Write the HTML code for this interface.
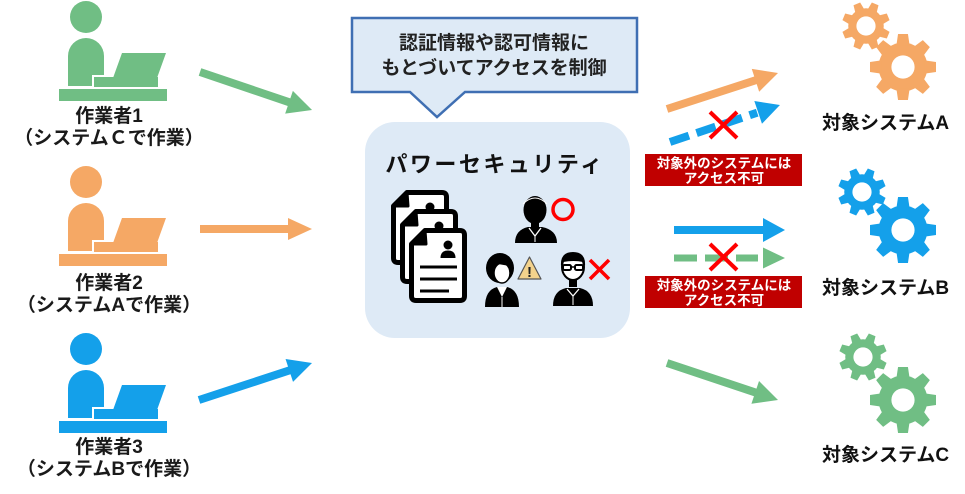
<!DOCTYPE html>
<html>
<head>
<meta charset="utf-8">
<style>
  html,body{margin:0;padding:0;background:#fff;}
  svg{display:block;}
  text{font-family:"Liberation Sans","Noto Sans CJK JP",sans-serif;font-weight:bold;}
</style>
</head>
<body>
<svg width="965" height="494" viewBox="0 0 965 494" xmlns="http://www.w3.org/2000/svg">
  <defs>
    <g id="worker">
      <circle cx="86" cy="17" r="16"/>
      <path d="M68,86 V56 A18,18 0 0 1 104,56 V86 Z"/>
      <polygon points="122,53 166,53 157,78 113,78"/>
      <rect x="94" y="77" width="64" height="10"/>
      <path d="M93,87 V76 H105" fill="none" stroke="#fff" stroke-width="2"/>
      <rect x="59" y="89" width="108" height="12"/>
    </g>
    <g id="gearbody">
      <circle r="0.74"/>
      <polygon points="-0.2,-0.66 0.2,-0.66 0.15,-1 -0.15,-1"/>
      <polygon points="-0.2,-0.66 0.2,-0.66 0.15,-1 -0.15,-1" transform="rotate(45)"/>
      <polygon points="-0.2,-0.66 0.2,-0.66 0.15,-1 -0.15,-1" transform="rotate(90)"/>
      <polygon points="-0.2,-0.66 0.2,-0.66 0.15,-1 -0.15,-1" transform="rotate(135)"/>
      <polygon points="-0.2,-0.66 0.2,-0.66 0.15,-1 -0.15,-1" transform="rotate(180)"/>
      <polygon points="-0.2,-0.66 0.2,-0.66 0.15,-1 -0.15,-1" transform="rotate(225)"/>
      <polygon points="-0.2,-0.66 0.2,-0.66 0.15,-1 -0.15,-1" transform="rotate(270)"/>
      <polygon points="-0.2,-0.66 0.2,-0.66 0.15,-1 -0.15,-1" transform="rotate(315)"/>
    </g>
    <g id="page">
      <path d="M16,2.5 H51 Q55.5,2.5 55.5,7 V68 Q55.5,72.5 51,72.5 H7 Q2.5,72.5 2.5,68 V16 Z" fill="#fff" stroke="#000" stroke-width="5" stroke-linejoin="round"/>
      <path d="M16,2.5 L17,16 L2.5,16 Z" fill="#000" stroke="#000" stroke-width="3" stroke-linejoin="round"/>
      <circle cx="39" cy="17" r="4.5" fill="#000"/>
      <path d="M31.5,30 Q31.5,22.5 39,22.5 Q46.5,22.5 46.5,30 Z" fill="#000"/>
      <line x1="11" y1="39" x2="48" y2="39" stroke="#000" stroke-width="3"/>
      <line x1="11" y1="51" x2="48" y2="51" stroke="#000" stroke-width="3"/>
      <line x1="11" y1="63" x2="40" y2="63" stroke="#000" stroke-width="3"/>
    </g>
  </defs>

  <!-- Workers -->
  <use href="#worker" fill="#70BE84"/>
  <use href="#worker" fill="#F5A865" transform="translate(0,165)"/>
  <use href="#worker" fill="#14A0EA" transform="translate(0,332)"/>

  <g fill="#1a1a1a" font-size="19" text-anchor="middle">
    <text x="109" y="122">作業者1</text>
    <text x="109" y="144">（システムＣで作業）</text>
    <text x="109" y="289">作業者2</text>
    <text x="109" y="311">（システムAで作業）</text>
    <text x="109" y="453">作業者3</text>
    <text x="109" y="475">（システムBで作業）</text>
  </g>

  <!-- Left arrows -->
  <g fill="#70BE84" transform="translate(200,72) rotate(18.74)">
    <rect x="0" y="-4" width="96" height="8"/>
    <polygon points="94,-12 118.3,0 94,12"/>
  </g>
  <g fill="#F5A865" transform="translate(200,229)">
    <rect x="0" y="-4" width="90" height="8"/>
    <polygon points="88,-11 112,0 88,11"/>
  </g>
  <g fill="#14A0EA" transform="translate(199,400) rotate(-18.13)">
    <rect x="0" y="-4" width="97" height="8"/>
    <polygon points="95,-12 118.9,0 95,12"/>
  </g>

  <!-- Callout -->
  <path d="M352,18 H637 V92 H465 L437,117 L410,92 H352 Z" fill="#DEEAF6" stroke="#3F6FB3" stroke-width="2.5" stroke-linejoin="miter"/>
  <g fill="#222" font-size="19" text-anchor="middle">
    <text x="494" y="49">認証情報や認可情報に</text>
    <text x="494" y="74">もとづいてアクセスを制御</text>
  </g>

  <!-- Main box -->
  <rect x="365" y="122" width="265" height="216" rx="30" ry="30" fill="#DEEAF6"/>
  <text x="495" y="172" font-size="22" letter-spacing="2.5" text-anchor="middle" fill="#111">パワーセキュリティ</text>

  <!-- Documents -->
  <use href="#page" transform="translate(391,190)"/>
  <use href="#page" transform="translate(400,209)"/>
  <use href="#page" transform="translate(409,228)"/>

  <!-- Man 1 -->
  <g>
    <ellipse cx="535" cy="210" rx="11.5" ry="14" fill="#000"/>
    <path d="M523,204 Q535,192 547,204" fill="none" stroke="#fff" stroke-width="1"/>
    <rect x="531" y="222" width="8" height="6" fill="#000"/>
    <path d="M515,243 Q515,230 528,227 L542,227 Q557,230 557,243 Z" fill="#000"/>
    <path d="M529,228 L535,236 L541,228" fill="none" stroke="#fff" stroke-width="1.3"/>
    <line x1="535" y1="236" x2="535" y2="242" stroke="#fff" stroke-width="1"/>
  </g>
  <circle cx="563" cy="209.5" r="10" fill="none" stroke="#FF0000" stroke-width="3.5"/>

  <!-- Woman -->
  <g>
    <ellipse cx="500" cy="268" rx="14" ry="15" fill="#000"/>
    <ellipse cx="502" cy="273" rx="8" ry="10" fill="#fff" stroke="#000" stroke-width="1.5"/>
    <path d="M492,263 Q500,256 510,266" fill="#000"/>
    <path d="M485,307 Q485,290 497,287 L507,287 Q519,290 519,307 Z" fill="#000"/>
    <path d="M497,287 L502,297 L507,287 Z" fill="#fff"/>
    <line x1="502" y1="297" x2="502" y2="307" stroke="#fff" stroke-width="1"/>
  </g>
  <polygon points="529.5,257 541,279 518,279" fill="#F3D28C" stroke="#555" stroke-width="1.2" stroke-linejoin="round"/>
  <text x="529.5" y="277" font-size="15" text-anchor="middle" fill="#222" font-family="Liberation Sans, sans-serif">!</text>

  <!-- Man 2 with glasses -->
  <g>
    <ellipse cx="573" cy="267" rx="11" ry="13" fill="#fff" stroke="#000" stroke-width="2"/>
    <path d="M561,266 Q560,252 573,252 Q586,252 585,266 L583,262 Q574,260 563,262 Z" fill="#000"/>
    <rect x="563" y="265" width="8" height="5" rx="1.5" fill="none" stroke="#000" stroke-width="2"/>
    <rect x="575" y="265" width="8" height="5" rx="1.5" fill="none" stroke="#000" stroke-width="2"/>
    <line x1="571" y1="267" x2="575" y2="267" stroke="#000" stroke-width="1.5"/>
    <rect x="569" y="279" width="8" height="8" fill="#000"/>
    <path d="M553,306 Q553,291 566,288 L580,288 Q593,291 593,306 Z" fill="#000"/>
    <path d="M567,289 L573,296 L579,289" fill="none" stroke="#fff" stroke-width="1.3"/>
    <line x1="573" y1="296" x2="573" y2="305" stroke="#fff" stroke-width="1"/>
  </g>
  <g stroke="#FF0000" stroke-width="3.5">
    <line x1="590" y1="260" x2="609" y2="279"/>
    <line x1="609" y1="260" x2="590" y2="279"/>
  </g>

  <!-- Right arrows -->
  <g fill="#F5A865" transform="translate(667,109) rotate(-17.97)">
    <rect x="0" y="-4" width="95" height="8"/>
    <polygon points="93,-12 116.7,0 93,12"/>
  </g>
  <g transform="translate(670,142) rotate(-18.59)">
    <line x1="0" y1="0" x2="92" y2="0" stroke="#14A0EA" stroke-width="8" stroke-dasharray="20 8"/>
    <polygon points="93,-12 116,0 93,12" fill="#14A0EA"/>
  </g>
  <g stroke="#FF0000" stroke-width="4">
    <line x1="710" y1="112" x2="737" y2="138"/>
    <line x1="737" y1="112" x2="710" y2="138"/>
  </g>

  <rect x="645" y="154" width="157" height="32" fill="#C00000"/>
  <g fill="#fff" font-size="13.5" text-anchor="middle">
    <text x="724" y="168">対象外のシステムには</text>
    <text x="724" y="183">アクセス不可</text>
  </g>

  <g fill="#14A0EA" transform="translate(674,230)">
    <rect x="0" y="-4" width="91" height="8"/>
    <polygon points="89,-12 111,0 89,12"/>
  </g>
  <g transform="translate(674,258)">
    <line x1="0" y1="0" x2="84" y2="0" stroke="#70BE84" stroke-width="7" stroke-dasharray="23 8"/>
    <polygon points="89,-10.5 111,0 89,10.5" fill="#70BE84"/>
  </g>
  <g stroke="#FF0000" stroke-width="4">
    <line x1="710" y1="244" x2="737" y2="270"/>
    <line x1="737" y1="244" x2="710" y2="270"/>
  </g>

  <rect x="645" y="276" width="157" height="32" fill="#C00000"/>
  <g fill="#fff" font-size="13.5" text-anchor="middle">
    <text x="724" y="290">対象外のシステムには</text>
    <text x="724" y="305">アクセス不可</text>
  </g>

  <g fill="#70BE84" transform="translate(667,363) rotate(18.43)">
    <rect x="0" y="-4" width="95" height="8"/>
    <polygon points="93,-12 117,0 93,12"/>
  </g>

  <!-- Gears A -->
  <use href="#gearbody" fill="#F5A865" transform="translate(866,26) scale(24) rotate(22.5)"/>
  <circle cx="866" cy="26" r="9.6" fill="#fff"/>
  <use href="#gearbody" fill="#F5A865" transform="translate(903,67) scale(33)"/>
  <circle cx="903" cy="67" r="11.6" fill="#fff"/>

  <!-- Gears B -->
  <use href="#gearbody" fill="#14A0EA" transform="translate(862,192) scale(24) rotate(22.5)"/>
  <circle cx="862" cy="192" r="9.6" fill="#fff"/>
  <use href="#gearbody" fill="#14A0EA" transform="translate(903,230) scale(33)"/>
  <circle cx="903" cy="230" r="11.6" fill="#fff"/>

  <!-- Gears C -->
  <use href="#gearbody" fill="#70BE84" transform="translate(863,357) scale(24) rotate(22.5)"/>
  <circle cx="863" cy="357" r="9.6" fill="#fff"/>
  <use href="#gearbody" fill="#70BE84" transform="translate(903,400) scale(33)"/>
  <circle cx="903" cy="400" r="11.6" fill="#fff"/>

  <g fill="#111" font-size="19">
    <text x="822" y="129">対象システムA</text>
    <text x="822" y="294">対象システムB</text>
    <text x="822" y="461">対象システムC</text>
  </g>
</svg>
</body>
</html>
